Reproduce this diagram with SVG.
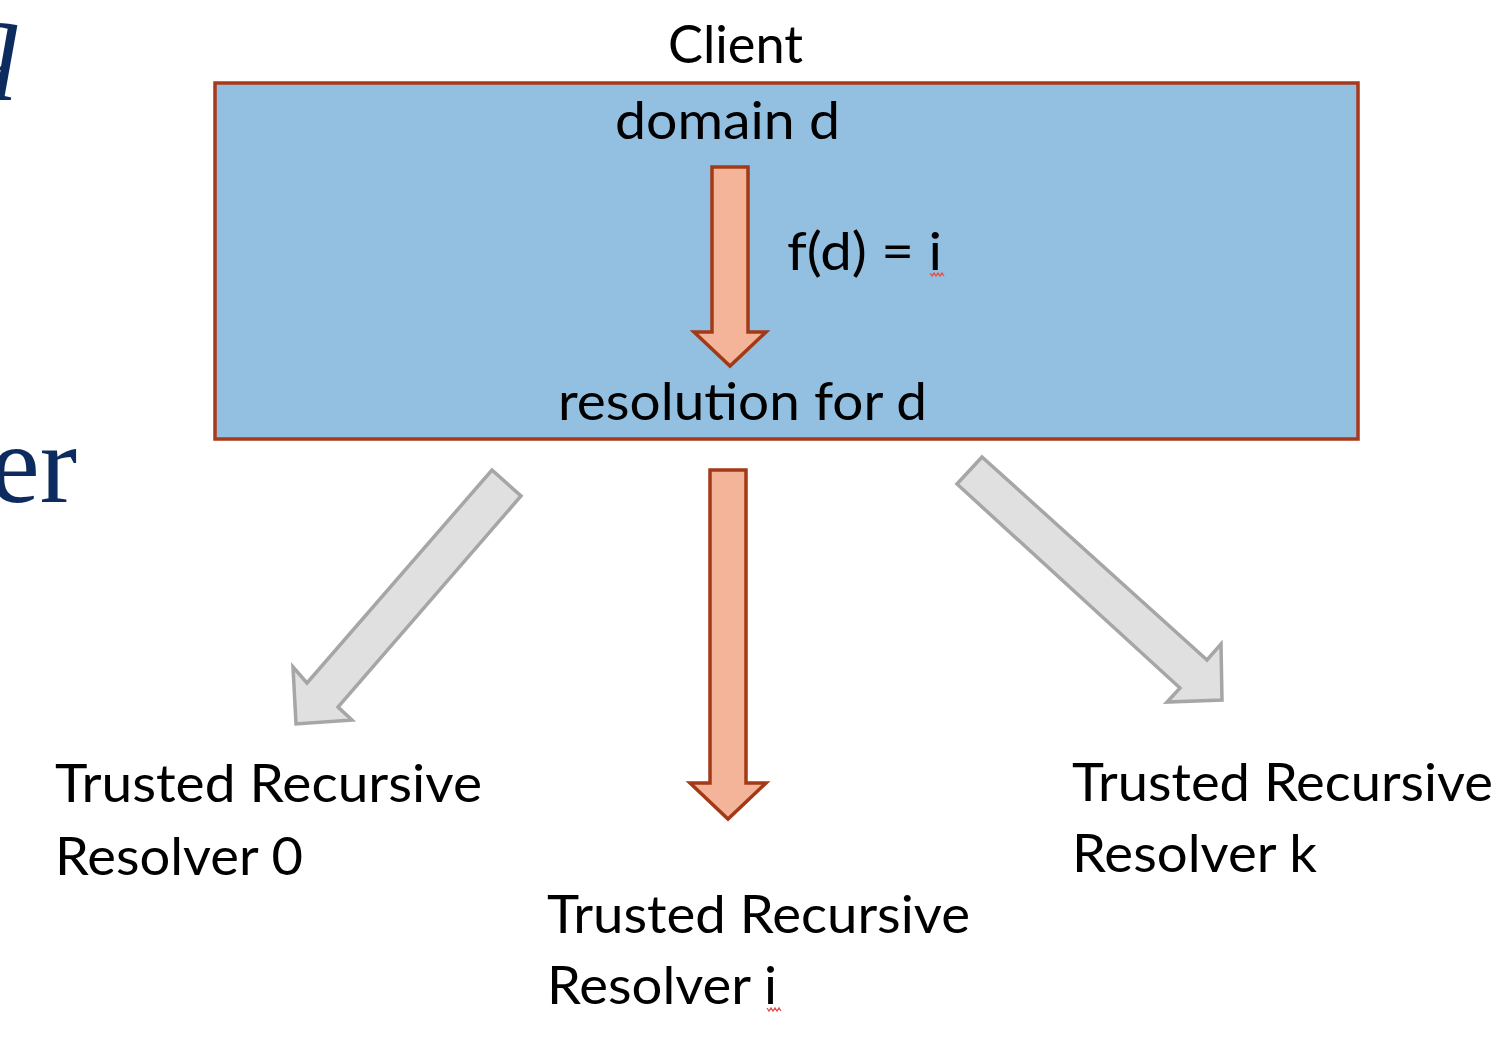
<svg xmlns="http://www.w3.org/2000/svg" width="1493" height="1059" viewBox="0 0 1493 1059">
  <style>
    .lbl { font-family: Lato, "Open Sans", "Liberation Sans", sans-serif; font-size: 52px; fill: #000000; }
    .title { font-family: "Liberation Serif", "Times New Roman", serif; font-size: 112px; fill: #0d2b5e; }
    .orange { fill: #f4b49a; stroke: #a33a17; stroke-width: 3.5; stroke-linejoin: miter; }
    .gray { fill: #e0e0e0; stroke: #a6a6a6; stroke-width: 3.5; stroke-linejoin: miter; }
    .squig { fill: none; stroke: #e0524a; stroke-width: 1.3; }
  </style>

  <rect width="1493" height="1059" fill="#ffffff"/>

  <g id="title-fragments">
    <text class="title" x="20" y="76" text-anchor="end" font-style="italic">q</text>
    <text class="title" x="77" y="502" text-anchor="end">er</text>
  </g>

  <g id="client">
    <text class="lbl" x="668" y="63" textLength="135" lengthAdjust="spacingAndGlyphs">Client</text>
    <rect x="215" y="83" width="1143" height="356" fill="#93c0e1" stroke="#a8391a" stroke-width="3.5"/>
    <text class="lbl" x="615" y="139" textLength="225" lengthAdjust="spacingAndGlyphs">domain d</text>
    <text class="lbl" x="787" y="270" textLength="155" lengthAdjust="spacingAndGlyphs">f(d) = i</text>
    <path class="squig" d="M930,273 l2,3 l2,-3 l2,3 l2,-3 l2,3 l2,-3 l2,3"/>
    <text class="lbl" x="558" y="420" textLength="369" lengthAdjust="spacingAndGlyphs">resolution for d</text>
  </g>

  <g id="resolver-0">
    <text class="lbl" x="55" y="802" textLength="427" lengthAdjust="spacingAndGlyphs">Trusted Recursive</text>
    <text class="lbl" x="55" y="875" textLength="248" lengthAdjust="spacingAndGlyphs">Resolver 0</text>
  </g>

  <g id="resolver-i">
    <text class="lbl" x="547" y="933" textLength="423" lengthAdjust="spacingAndGlyphs">Trusted Recursive</text>
    <text class="lbl" x="547" y="1004" textLength="230" lengthAdjust="spacingAndGlyphs">Resolver i</text>
    <path class="squig" d="M767,1008 l2,3 l2,-3 l2,3 l2,-3 l2,3 l2,-3 l2,3"/>
  </g>

  <g id="resolver-k">
    <text class="lbl" x="1072" y="801" textLength="421" lengthAdjust="spacingAndGlyphs">Trusted Recursive</text>
    <text class="lbl" x="1072" y="872" textLength="245" lengthAdjust="spacingAndGlyphs">Resolver k</text>
  </g>

  <g id="connectors">
    <polygon class="orange" points="712,167 748,167 748,332 766,332 730,366 694,332 712,332"/>
    <polygon class="orange" points="710,470 746,470 746,783 766,783 728,819 690,783 710,783"/>
    <polygon class="gray" points="492,470 521,496 338,707 352,720 296,724 293,667 307,683"/>
    <polygon class="gray" points="982,457 1207,660 1221,644 1222,700 1167,702 1180,688 957,484"/>
  </g>
</svg>
